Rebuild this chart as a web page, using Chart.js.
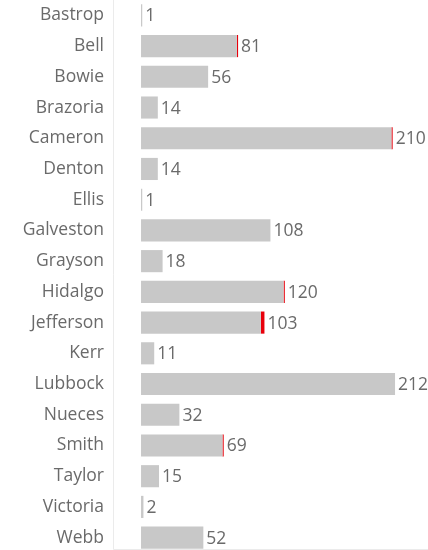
<!DOCTYPE html>
<html>
<head>
<meta charset="utf-8">
<script src="https://cdn.jsdelivr.net/npm/chart.js@4/dist/chart.umd.min.js"></script>
<style>
  html, body { margin: 0; padding: 0; background: #fff; overflow: hidden; }
  #wrap { position: absolute; left: 0; top: 0; width: 428px; height: 553px; }
</style>
</head>
<body>
<div id="wrap"><canvas id="c" width="428" height="553"></canvas></div>
<script>
const counties = ["Bastrop","Bell","Bowie","Brazoria","Cameron","Denton","Ellis","Galveston","Grayson","Hidalgo","Jefferson","Kerr","Lubbock","Nueces","Smith","Taylor","Victoria","Webb"];
const totals   = [1, 81, 56, 14, 210, 14, 1, 108, 18, 120, 103, 11, 212, 32, 69, 15, 2, 52];
const flagged  = [0, 1, 0, 0, 1, 0, 0, 0, 0, 1, 3, 0, 0, 0, 1, 0, 0, 0];

const grayPart = totals.map((t, i) => t - flagged[i]);

const FONT = "'Open Sans', 'DejaVu Sans', sans-serif";
const TEXT = '#6a6a6a';
const FSIZE = 17.5;

const decor = {
  id: 'decor',
  afterDatasetsDraw(chart) {
    const ctx = chart.ctx;
    const meta0 = chart.getDatasetMeta(0);
    const xs = chart.scales.x;
    const last = meta0.data[meta0.data.length - 1];
    const bottomY = Math.round(last.y + last.height / 2) + 0.5;
    const left = chart.chartArea.left + 0.5;
    ctx.save();
    ctx.strokeStyle = '#ebebeb';
    ctx.lineWidth = 1;
    ctx.beginPath();
    ctx.moveTo(left, 0);
    ctx.lineTo(left, bottomY);
    ctx.lineTo(chart.chartArea.right, bottomY);
    ctx.stroke();
    ctx.fillStyle = TEXT;
    ctx.font = FSIZE + 'px ' + FONT;
    ctx.textAlign = 'left';
    ctx.textBaseline = 'middle';
    meta0.data.forEach((bar, i) => {
      const x = xs.getPixelForValue(totals[i]) + 3;
      ctx.fillText(String(totals[i]), x, bar.y + 1);
    });
    ctx.restore();
  }
};

new Chart(document.getElementById('c'), {
  type: 'bar',
  data: {
    labels: counties,
    datasets: [
      { data: grayPart, backgroundColor: '#c8c8c8', borderWidth: 0 },
      { data: flagged, backgroundColor: '#e8000b', borderWidth: 0 }
    ]
  },
  options: {
    indexAxis: 'y',
    responsive: false,
    devicePixelRatio: 1,
    animation: false,
    layout: { padding: 0 },
    barPercentage: 0.72,
    categoryPercentage: 1,
    plugins: { legend: { display: false }, tooltip: { enabled: false } },
    scales: {
      x: {
        stacked: true,
        display: false,
        min: -23.4,
        max: 239.5
      },
      y: {
        stacked: true,
        grid: { display: false, drawTicks: false },
        border: { display: false },
        ticks: { color: TEXT, font: { size: FSIZE, family: FONT }, padding: 9 },
        afterFit(scale) { scale.width = 113; scale.paddingTop = 0; scale.paddingBottom = 0; }
      }
    }
  },
  plugins: [decor]
});
</script>
</body>
</html>
